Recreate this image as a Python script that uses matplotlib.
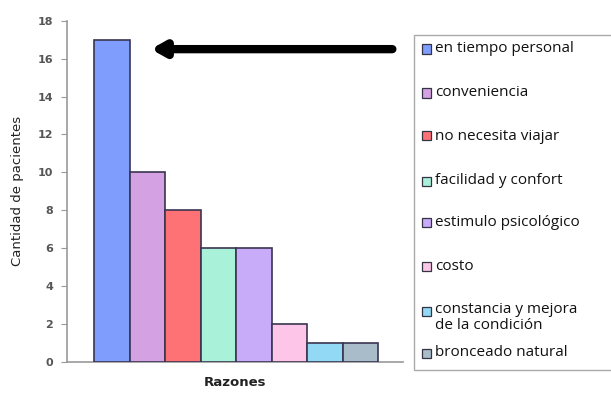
import matplotlib
matplotlib.use("Agg")
import matplotlib.pyplot as plt
from matplotlib.patches import Rectangle

# Razones de los pacientes y cantidad por razón
razones = [
    "en tiempo personal",
    "conveniencia",
    "no necesita viajar",
    "facilidad y confort",
    "estimulo psicológico",
    "costo",
    "constancia y mejora\nde la condición",
    "bronceado natural",
]
pacientes = [17, 10, 8, 6, 6, 2, 1, 1]
colores = ["#7f9dfd", "#d4a2e2", "#fe7276", "#aaf1d9", "#c8abf9",
           "#fdc6e8", "#92d9f5", "#a9bcc9"]
yticks = [0, 2, 4, 6, 8, 10, 12, 14, 16, 18]

W, H = 611, 393
fig = plt.figure(figsize=(W / 100, H / 100), dpi=100)
ax = fig.add_axes([67 / W, (H - 362) / H, (403 - 67) / W, (362 - 20.7) / H])

x = list(range(len(pacientes)))
ax.bar(x, pacientes, width=1.0, color=colores, edgecolor="#3a3550",
       linewidth=1.2, zorder=3)

ax.set_xlim(-1.26, 8.2)
ax.set_ylim(0, 18)
ax.set_yticks(yticks)
ax.set_xticks([])
for s in ("top", "right"):
    ax.spines[s].set_visible(False)
for s in ("left", "bottom"):
    ax.spines[s].set_color("#999999")
    ax.spines[s].set_linewidth(1.2)
ax.tick_params(axis="y", length=4, color="#999999", labelsize=8,
               labelcolor="#555555", pad=6)
for t in ax.get_yticklabels():
    t.set_fontweight("bold")

ax.set_ylabel("Cantidad de pacientes", fontsize=9.5, color="#222222",
              labelpad=10)
ax.set_xlabel("Razones", fontsize=9.5, fontweight="bold", color="#222222",
              labelpad=10)

# Flecha que señala la razón principal
ax.annotate("", xy=(1.1, 16.5), xytext=(7.9, 16.5),
            arrowprops=dict(arrowstyle="-|>,head_length=0.75,head_width=0.42",
                            lw=6, color="black", capstyle="round",
                            shrinkA=0, shrinkB=0),
            zorder=5)

# Leyenda dibujada a mano dentro de un recuadro
box = Rectangle((414 / W, (H - 370) / H), (W - 414 + 5) / W, (370 - 35) / H,
                transform=fig.transFigure, facecolor="white",
                edgecolor="#aaaaaa", linewidth=1.0, clip_on=False)
fig.add_artist(box)
ys = [49, 93, 136, 181, 222, 266, 311, 353]
for nombre, color, yp in zip(razones, colores, ys):
    sq = Rectangle((422 / W, (H - yp - 4.5) / H), 9 / W, 9 / H,
                   transform=fig.transFigure, facecolor=color,
                   edgecolor="#333344", linewidth=0.9)
    fig.add_artist(sq)
    if "\n" in nombre:
        fig.text(435 / W, (H - yp + 9) / H, nombre, fontsize=11,
                 family="Open Sans", va="top", ha="left", color="#111111",
                 linespacing=1.1)
    else:
        fig.text(435 / W, (H - yp) / H, nombre, fontsize=11,
                 family="Open Sans", va="center", ha="left", color="#111111")

fig.savefig("out.png", dpi=100)
